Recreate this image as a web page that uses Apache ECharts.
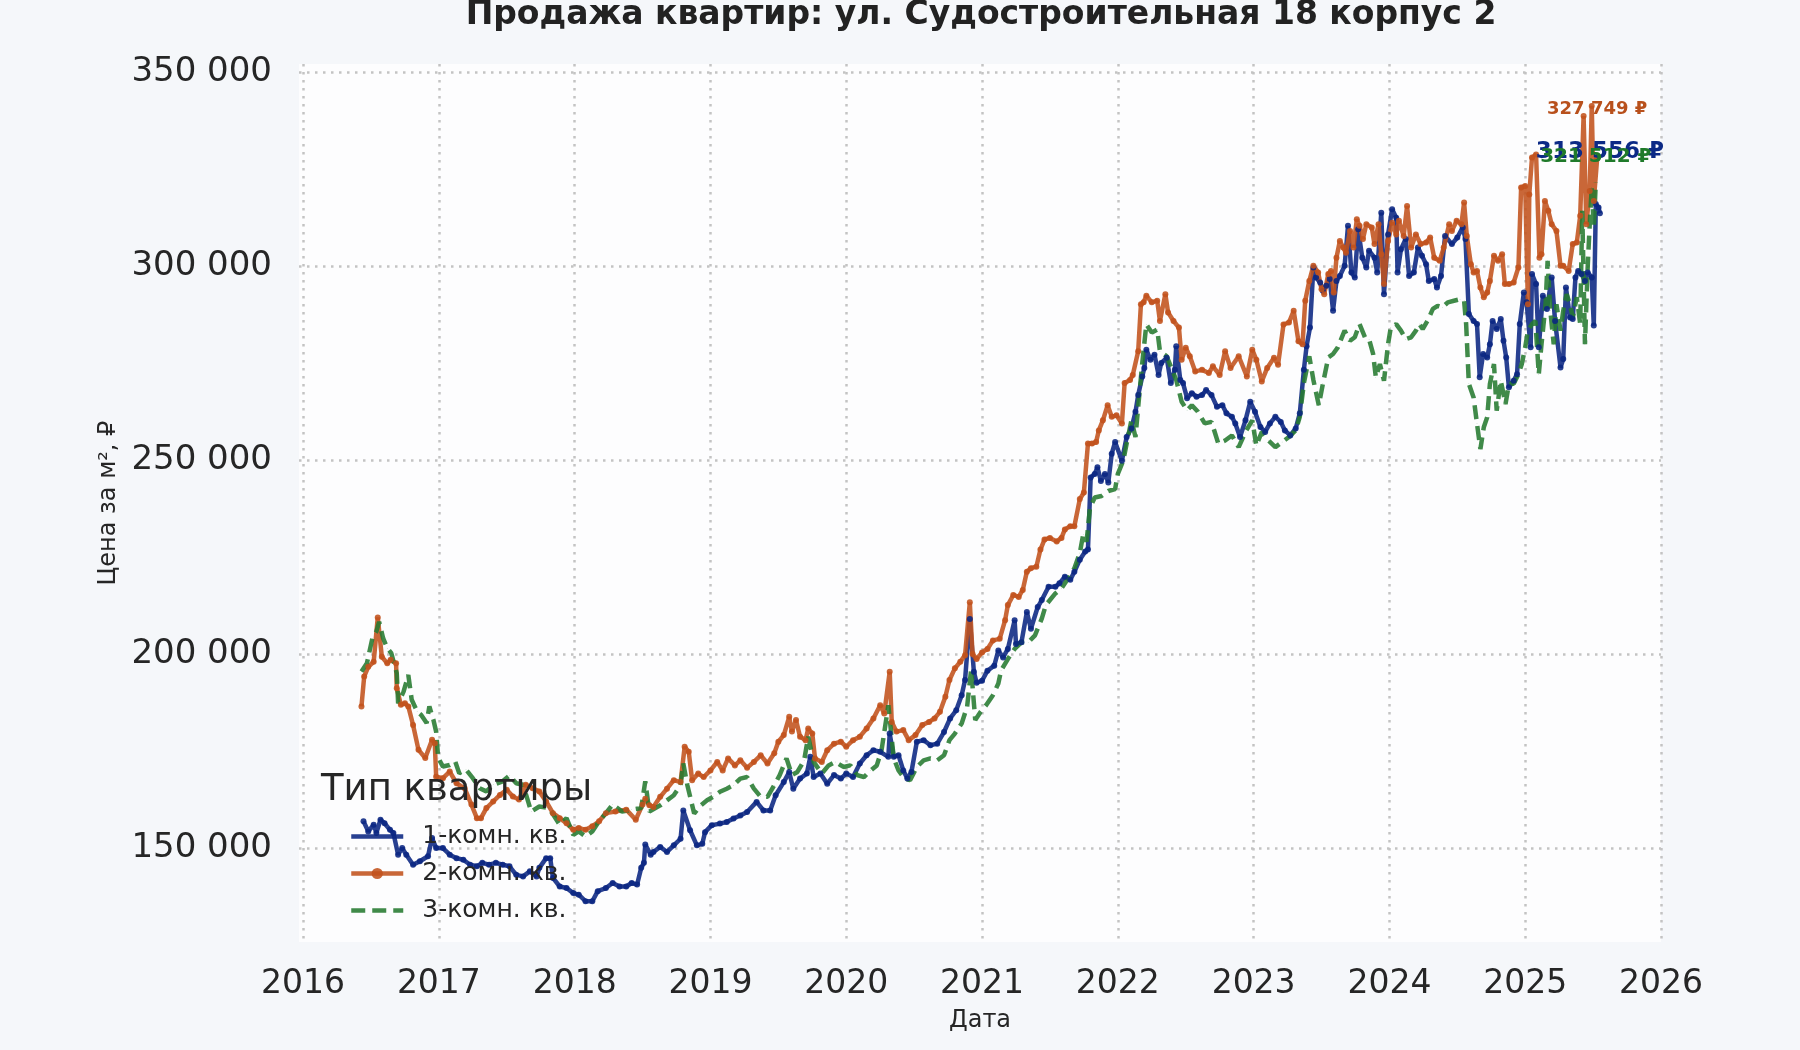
<!DOCTYPE html>
<html><head><meta charset="utf-8">
<script src="https://cdn.jsdelivr.net/npm/echarts@6/dist/echarts.min.js"></script>
<style>html,body{margin:0;padding:0;background:#f5f7fa;}#c{width:1800px;height:1050px;}</style>
</head><body><div id="c"></div>
<script>
const titleText = 'Продажа квартир: ул. Судостроительная 18 корпус 2';
const seriesNames = ['1-комн. кв.', '2-комн. кв.', '3-комн. кв.'];
const legendTitle = 'Тип квартиры';
const xTicks = [2016,2017,2018,2019,2020,2021,2022,2023,2024,2025,2026];
const yTicks = [150000,200000,250000,300000,350000];

const dates1 = [2016.445,2016.48,2016.52,2016.54,2016.57,2016.60,2016.64,2016.665,2016.70,2016.73,2016.76,2016.81,2016.86,2016.92,2016.95,2016.98,2017.03,2017.08,2017.13,2017.18,2017.23,2017.28,2017.32,2017.37,2017.42,2017.47,2017.52,2017.57,2017.62,2017.67,2017.72,2017.74,2017.79,2017.82,2017.84,2017.89,2017.94,2017.99,2018.03,2018.08,2018.13,2018.17,2018.23,2018.28,2018.33,2018.38,2018.42,2018.46,2018.49,2018.51,2018.52,2018.56,2018.58,2018.63,2018.68,2018.73,2018.78,2018.80,2018.85,2018.90,2018.94,2018.96,2019.01,2019.07,2019.12,2019.17,2019.22,2019.27,2019.34,2019.39,2019.44,2019.48,2019.54,2019.58,2019.61,2019.66,2019.71,2019.735,2019.76,2019.81,2019.86,2019.91,2019.96,2020.0,2020.05,2020.10,2020.15,2020.20,2020.25,2020.31,2020.32,2020.35,2020.385,2020.42,2020.45,2020.48,2020.52,2020.57,2020.62,2020.67,2020.72,2020.765,2020.81,2020.85,2020.875,2020.91,2020.94,2020.96,2021.0,2021.04,2021.09,2021.12,2021.155,2021.19,2021.24,2021.25,2021.29,2021.33,2021.36,2021.41,2021.44,2021.49,2021.54,2021.57,2021.61,2021.65,2021.68,2021.72,2021.76,2021.78,2021.80,2021.83,2021.85,2021.875,2021.905,2021.93,2021.955,2021.98,2022.03,2022.065,2022.10,2022.13,2022.15,2022.18,2022.195,2022.21,2022.24,2022.27,2022.30,2022.32,2022.36,2022.39,2022.42,2022.43,2022.46,2022.48,2022.51,2022.545,2022.58,2022.62,2022.65,2022.69,2022.73,2022.77,2022.80,2022.84,2022.865,2022.90,2022.94,2022.975,2023.01,2023.05,2023.085,2023.12,2023.16,2023.20,2023.23,2023.27,2023.31,2023.34,2023.37,2023.39,2023.415,2023.44,2023.46,2023.49,2023.51,2023.535,2023.56,2023.585,2023.61,2023.635,2023.67,2023.695,2023.72,2023.745,2023.77,2023.80,2023.83,2023.85,2023.89,2023.91,2023.94,2023.96,2023.99,2024.02,2024.05,2024.06,2024.085,2024.12,2024.145,2024.18,2024.21,2024.24,2024.27,2024.29,2024.33,2024.35,2024.38,2024.41,2024.46,2024.50,2024.54,2024.56,2024.585,2024.62,2024.645,2024.665,2024.69,2024.72,2024.74,2024.76,2024.79,2024.82,2024.84,2024.86,2024.88,2024.915,2024.94,2024.96,2024.99,2025.01,2025.04,2025.05,2025.08,2025.10,2025.13,2025.16,2025.195,2025.22,2025.26,2025.28,2025.30,2025.33,2025.35,2025.37,2025.39,2025.415,2025.44,2025.46,2025.49,2025.505,2025.52,2025.54,2025.55];
const prices1 = [156900,154300,156000,153900,157300,156400,154700,153900,148300,150000,148300,145700,146600,147900,152600,150000,150000,148300,147400,147000,145700,145300,146200,145700,146200,145700,145300,143100,142700,144000,142700,144900,147400,147400,142300,140100,139700,138400,138000,136300,136300,138900,139700,141000,140100,140100,141000,140600,144900,146200,150900,148300,149000,150300,149000,150700,152400,159700,154600,150700,151100,154100,155900,156300,156700,157600,158400,159300,161900,159700,159700,163600,167000,169600,165300,167900,169200,173500,168300,169200,166600,168800,167900,169200,168300,171800,173900,175200,174800,173500,179500,173500,173900,170000,167900,169600,177400,177800,176500,176900,179900,183400,185500,189400,193300,209000,195400,192600,193100,195700,197000,200900,199100,201300,208700,202600,203000,210800,206500,212100,213900,217300,217300,218200,219900,219100,221200,224300,226400,226900,245500,246400,248100,244600,246400,244200,251600,254600,249800,255900,258100,262400,266700,271500,273700,278400,275800,277100,271900,275000,276300,269800,273200,279300,270600,269800,265900,267200,266300,266700,268000,266700,263700,264100,262000,261100,259400,255900,260200,265000,262400,258500,257200,259400,261100,259800,257600,256300,258100,262000,273200,279300,284100,299600,297000,295700,293600,294900,296600,288400,296100,297400,300000,310300,298300,297000,309400,302100,299600,303900,302100,298300,313700,292700,308100,314600,312400,298300,304300,306900,297400,298300,304700,302600,300400,296100,296600,294400,297400,307700,305600,307300,309900,306900,287600,285800,285000,271300,277300,276400,279800,285800,283700,286300,280700,276400,268700,270400,272100,285000,293100,290600,279000,297900,295300,279000,292300,288900,297000,285800,273800,276000,294400,286700,286300,297000,298700,297900,296100,298300,297000,284600,315900,315000,313556];

const dates2 = [2016.43,2016.45,2016.48,2016.52,2016.55,2016.58,2016.62,2016.645,2016.685,2016.69,2016.72,2016.75,2016.775,2016.81,2016.85,2016.90,2016.95,2016.97,2016.98,2017.03,2017.08,2017.13,2017.19,2017.24,2017.28,2017.31,2017.35,2017.40,2017.45,2017.50,2017.545,2017.59,2017.64,2017.69,2017.74,2017.79,2017.84,2017.89,2017.94,2017.99,2018.03,2018.08,2018.13,2018.18,2018.23,2018.30,2018.38,2018.45,2018.50,2018.52,2018.55,2018.58,2018.63,2018.68,2018.73,2018.78,2018.81,2018.84,2018.865,2018.91,2018.95,2019.0,2019.05,2019.09,2019.13,2019.18,2019.22,2019.27,2019.32,2019.37,2019.42,2019.47,2019.50,2019.54,2019.58,2019.60,2019.63,2019.66,2019.70,2019.72,2019.75,2019.77,2019.82,2019.86,2019.91,2019.96,2020.0,2020.05,2020.10,2020.15,2020.20,2020.25,2020.28,2020.32,2020.335,2020.37,2020.42,2020.46,2020.51,2020.56,2020.61,2020.65,2020.69,2020.73,2020.76,2020.80,2020.84,2020.875,2020.91,2020.93,2020.96,2021.0,2021.04,2021.08,2021.13,2021.17,2021.19,2021.23,2021.27,2021.30,2021.33,2021.36,2021.40,2021.43,2021.46,2021.50,2021.55,2021.585,2021.61,2021.65,2021.68,2021.72,2021.75,2021.78,2021.81,2021.84,2021.86,2021.89,2021.925,2021.955,2021.99,2022.03,2022.05,2022.09,2022.11,2022.15,2022.17,2022.19,2022.21,2022.25,2022.29,2022.31,2022.35,2022.37,2022.41,2022.45,2022.47,2022.50,2022.53,2022.57,2022.62,2022.67,2022.70,2022.75,2022.79,2022.83,2022.89,2022.95,2022.99,2023.02,2023.06,2023.10,2023.15,2023.18,2023.22,2023.26,2023.295,2023.33,2023.36,2023.38,2023.41,2023.44,2023.475,2023.50,2023.52,2023.55,2023.57,2023.59,2023.61,2023.635,2023.66,2023.68,2023.71,2023.735,2023.76,2023.78,2023.805,2023.83,2023.87,2023.89,2023.92,2023.94,2023.96,2023.99,2024.02,2024.05,2024.07,2024.105,2024.13,2024.16,2024.195,2024.23,2024.27,2024.30,2024.33,2024.37,2024.40,2024.44,2024.46,2024.495,2024.53,2024.55,2024.57,2024.60,2024.62,2024.645,2024.67,2024.695,2024.72,2024.74,2024.77,2024.80,2024.83,2024.85,2024.88,2024.915,2024.95,2024.97,2025.0,2025.02,2025.03,2025.05,2025.08,2025.105,2025.12,2025.145,2025.17,2025.195,2025.23,2025.26,2025.28,2025.32,2025.35,2025.38,2025.405,2025.43,2025.45,2025.475,2025.49,2025.505,2025.53];
const prices2 = [186500,194200,196700,198000,209400,199300,197600,198500,197600,191200,186900,187300,186500,181700,175300,173200,177900,177000,168400,168000,169700,166700,165400,161200,157700,157700,160300,162000,163700,165000,163300,162500,166300,165400,164600,162000,159000,157700,156400,154700,155200,154700,155600,156900,159000,159400,159900,157300,161200,162700,161000,160600,163200,165300,167500,167000,176100,174800,167500,169200,168300,170000,172200,170000,173100,171300,172600,170700,172200,173900,171800,174400,177400,179100,183800,180000,183000,178700,177800,180800,179500,173100,172200,175200,176900,177400,176100,177800,178700,180800,183400,186800,184700,195400,182500,180000,180400,177800,179100,181700,182500,183400,185100,189000,193300,196300,198000,199700,213300,200000,198700,200400,201300,203500,203900,208700,212600,215200,214700,216500,221200,222100,222500,226900,229500,229900,229000,229900,232100,232900,232900,239900,241600,254200,254200,254600,257600,260200,264100,261100,261500,259400,269800,270600,271900,278000,290100,290600,292300,290600,291000,285800,292700,288000,285800,284100,275800,278900,276700,272800,273200,272400,274100,271900,278000,273700,276700,271500,278400,275800,270200,273700,276300,274500,284900,285400,288400,280600,279800,291000,296100,300000,298300,294000,292700,297900,298700,293100,302100,306400,304700,303400,309000,304700,312000,310300,306900,310700,309900,305600,310700,303000,295300,306400,311100,308100,311600,307700,315400,304700,308100,305600,306000,307300,302100,301300,304700,310700,309000,311600,310700,316300,307700,300400,298300,298700,294400,291900,293100,296100,302600,301300,303000,295300,295300,295700,299600,320200,320600,290100,318400,327900,328700,302100,303000,316700,314200,310700,309000,300000,300000,298700,305600,306000,312900,338600,310700,319300,341200,316700,327749];

const dates3 = [2016.43,2016.47,2016.51,2016.54,2016.56,2016.59,2016.62,2016.65,2016.69,2016.70,2016.74,2016.775,2016.80,2016.84,2016.87,2016.91,2016.93,2016.96,2016.98,2016.995,2017.03,2017.08,2017.12,2017.15,2017.20,2017.25,2017.30,2017.35,2017.40,2017.47,2017.52,2017.57,2017.62,2017.68,2017.74,2017.81,2017.85,2017.89,2017.94,2017.99,2018.03,2018.08,2018.13,2018.18,2018.23,2018.28,2018.35,2018.42,2018.49,2018.52,2018.55,2018.63,2018.68,2018.73,2018.78,2018.80,2018.83,2018.88,2018.93,2018.975,2019.02,2019.07,2019.12,2019.17,2019.22,2019.27,2019.32,2019.37,2019.42,2019.47,2019.51,2019.56,2019.60,2019.64,2019.69,2019.72,2019.76,2019.82,2019.87,2019.92,2019.98,2020.03,2020.08,2020.13,2020.18,2020.225,2020.26,2020.31,2020.35,2020.385,2020.43,2020.47,2020.52,2020.57,2020.62,2020.67,2020.72,2020.76,2020.80,2020.85,2020.89,2020.92,2020.95,2020.99,2021.03,2021.08,2021.12,2021.14,2021.19,2021.24,2021.29,2021.34,2021.39,2021.44,2021.47,2021.54,2021.585,2021.635,2021.68,2021.72,2021.745,2021.77,2021.795,2021.83,2021.88,2021.93,2021.98,2022.0,2022.04,2022.065,2022.10,2022.13,2022.15,2022.18,2022.21,2022.25,2022.29,2022.31,2022.36,2022.40,2022.43,2022.47,2022.51,2022.545,2022.59,2022.64,2022.69,2022.74,2022.79,2022.84,2022.89,2022.94,2022.99,2023.02,2023.06,2023.11,2023.16,2023.21,2023.26,2023.31,2023.34,2023.37,2023.41,2023.44,2023.48,2023.51,2023.55,2023.585,2023.62,2023.67,2023.71,2023.745,2023.78,2023.82,2023.85,2023.88,2023.90,2023.93,2023.96,2023.99,2024.01,2024.05,2024.085,2024.12,2024.16,2024.195,2024.22,2024.245,2024.28,2024.32,2024.355,2024.39,2024.43,2024.475,2024.52,2024.55,2024.565,2024.585,2024.62,2024.645,2024.67,2024.695,2024.72,2024.74,2024.77,2024.79,2024.82,2024.855,2024.88,2024.915,2024.95,2024.975,2025.0,2025.02,2025.05,2025.075,2025.10,2025.12,2025.15,2025.165,2025.185,2025.21,2025.23,2025.26,2025.28,2025.305,2025.33,2025.35,2025.38,2025.405,2025.42,2025.44,2025.46,2025.475,2025.49,2025.505,2025.52];
const prices3 = [195500,197600,204000,205800,208300,204000,201500,200200,195000,187300,190300,194600,188200,185200,184300,182200,186500,183000,180000,173200,171000,171400,172300,169300,170200,168000,165400,164600,166300,167200,168700,166700,166300,159400,160700,160300,158200,156000,157700,153400,154300,153000,154300,156900,159000,161200,159400,159900,160300,167200,159400,161000,162300,163600,166200,171800,166200,158900,161000,162300,163200,164500,165300,166200,167900,168300,165300,163200,163200,166200,168800,173100,168800,169600,172600,178700,172200,169200,171300,172200,170900,171300,168800,168300,170000,171300,175200,186800,173100,170000,167900,167500,170900,172600,173100,172600,173900,177800,179500,182100,186400,196000,183000,185100,186800,189400,192400,195700,198700,201300,203000,203000,204800,209100,212600,215600,216900,219500,222100,226000,230800,229000,237700,240300,240700,242000,242500,246400,249800,254200,260200,255900,263700,275000,284900,282800,283600,278000,276700,273200,270600,265000,262800,264100,262400,259400,259800,254200,255000,256300,253300,257200,260200,253700,257200,255000,253300,254600,255900,257600,261100,269800,276700,270600,264100,269600,276400,277300,279000,283300,280700,281600,285000,281600,281100,277300,271300,274700,270400,279800,284100,285000,283300,281100,281600,283300,285000,283700,285800,288900,289700,289300,290600,291000,291400,291000,285000,269600,266100,259300,252800,258400,261000,269600,274700,262700,270400,264400,269600,269600,272100,274700,279000,283300,285000,285800,272100,279800,290100,301300,288400,279800,290100,283300,288400,292700,290100,286700,291900,285000,314200,279800,299600,310700,320200,309900,321512];

const colors = ['rgba(10,38,130,0.88)', 'rgba(194,82,28,0.88)', 'rgba(38,122,48,0.88)'];
const labelColors = ['#0c2a86', '#b8501c', '#1f7a2a'];

function fmt(v) { return String(Math.round(v)).replace(/\B(?=(\d{3})+(?!\d))/g, ' '); }

function build(dates, prices, idx, labelSize, labelDist) {
  return dates.map((d, i) => {
    const item = { value: [d, prices[i]] };
    if (i === dates.length - 1) {
      item.label = {
        show: true, position: 'top', distance: labelDist,
        formatter: fmt(prices[i]) + ' ₽',
        color: labelColors[idx], fontWeight: 'bold', fontSize: labelSize,
        fontFamily: 'DejaVu Sans'
      };
    }
    return item;
  });
}

const chart = echarts.init(document.getElementById('c'), null, { renderer: 'canvas' });
const FONT = 'DejaVu Sans';
const split = { show: true, lineStyle: { color: '#c3c3c3', width: 2.5, type: [2.5, 5.5] } };

chart.setOption({
  backgroundColor: '#f5f7fa',
  animation: false,
  textStyle: { fontFamily: FONT },
  graphic: [
    { type: 'text', x: 981, y: 15, style: { text: titleText, fontFamily: FONT, fontSize: 33, fontWeight: 'bold', fill: '#222', textAlign: 'center', textVerticalAlign: 'middle' } },
    { type: 'text', x: 321, y: 790, z: 10, style: { text: legendTitle, fontFamily: FONT, fontSize: 37, fill: '#262626', textAlign: 'left', textVerticalAlign: 'middle' } }
  ],
  grid: { left: 299, right: 139, top: 64, bottom: 108, show: true, backgroundColor: '#fdfdfe', borderWidth: 0, containLabel: false },
  legend: {
    orient: 'vertical', left: 344, top: 819, itemWidth: 52, itemHeight: 14, itemGap: 12,
    data: [
      { name: seriesNames[0], itemStyle: { opacity: 0 } },
      { name: seriesNames[1], itemStyle: { opacity: 1 } },
      { name: seriesNames[2], itemStyle: { opacity: 0 } }
    ],
    lineStyle: { width: 4.5 },
    textStyle: { fontFamily: FONT, fontSize: 25, color: '#262626', padding: [0, 0, 0, 14] }
  },
  xAxis: {
    type: 'value', min: 2015.97, max: 2026.0,
    name: 'Дата', nameLocation: 'middle', nameGap: 67,
    nameTextStyle: { fontFamily: FONT, fontSize: 24, color: '#262626' },
    axisLine: { show: false }, axisTick: { show: false, customValues: xTicks },
    axisLabel: { customValues: xTicks, fontFamily: FONT, fontSize: 33, color: '#262626', margin: 26, formatter: v => String(Math.round(v)) },
    splitLine: split
  },
  yAxis: {
    type: 'value', min: 125800, max: 352000,
    name: 'Цена за м², ₽', nameLocation: 'middle', nameGap: 174, nameRotate: 90,
    nameTextStyle: { fontFamily: FONT, fontSize: 24, color: '#262626' },
    axisLine: { show: false }, axisTick: { show: false, customValues: yTicks },
    axisLabel: { customValues: yTicks, fontFamily: FONT, fontSize: 34, color: '#262626', margin: 27, formatter: v => fmt(v) },
    splitLine: split
  },
  series: [
    { name: seriesNames[0], type: 'line', data: build(dates1, prices1, 0, 23, 47), symbol: 'circle', symbolSize: 6,
      lineStyle: { color: colors[0], width: 4.5 }, itemStyle: { color: colors[0] } },
    { name: seriesNames[1], type: 'line', data: build(dates2, prices2, 1, 18, 37), symbol: 'circle', symbolSize: 6,
      lineStyle: { color: colors[1], width: 4.5 }, itemStyle: { color: colors[1] } },
    { name: seriesNames[2], type: 'line', data: build(dates3, prices3, 2, 20, 15), symbol: 'circle', symbolSize: 0.5, showSymbol: true,
      lineStyle: { color: colors[2], width: 4.5, type: [14, 7] }, itemStyle: { color: colors[2] } }
  ]
});
</script></body></html>
